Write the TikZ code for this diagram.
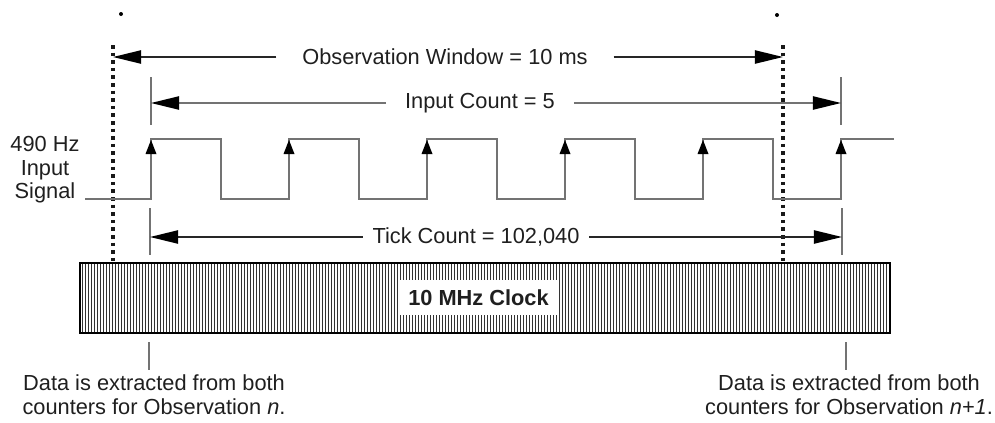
\documentclass[tikz,border=0pt]{standalone}
\usepackage{fontspec}
\setmainfont{Liberation Sans}
\usetikzlibrary{arrows.meta}

\begin{document}
\begin{tikzpicture}[x=0.025cm,y=-0.025cm,font=\fontsize{15.5}{18}\selectfont,text=black!88,
  sigline/.style={black!55,line width=0.05cm},
  dimline/.style={line width=0.04cm,-{Triangle[length=0.7cm,width=0.33cm,color=black]}},
  windowmark/.style={black!90,line width=0.09cm,dash pattern=on 0.09cm off 0.1cm},
  endtick/.style={black!55,line width=0.04cm}]
  \useasboundingbox (0,0) rectangle (995,422);
  % --- observation window markers
  \fill[black] (121,14) circle (2);
  \fill[black] (777,15) circle (2);
  \draw[windowmark] (113,45) -- (113,263);
  \draw[windowmark] (783,45) -- (783,263);
  % --- observation window
  \coordinate (obsL) at (113,57);
  \coordinate (obsR) at (783,57);
  \node[inner xsep=0.64cm,inner ysep=0pt] (obs) at (445,57) {Observation Window = 10 ms};
  \draw[dimline,black!85] (obs.west) -- (obsL);
  \draw[dimline,black!85] (obs.east) -- (obsR);
  % --- input count
  \coordinate (inpL) at (151,103);
  \coordinate (inpR) at (841,103);
  \draw[endtick] (inpL) +(0,-26) -- +(0,22);
  \draw[endtick] (inpR) +(0,-26) -- +(0,22);
  \node[inner xsep=0.47cm,inner ysep=0pt] (inp) at (480,103) {Input Count = 5};
  \draw[dimline,black!55] (inp.west) -- (inpL);
  \draw[dimline,black!55] (inp.east) -- (inpR);
  % --- input signal
  \node[align=center,inner sep=0pt,font=\fontsize{15.5}{16.7}\selectfont] (sig) at (45,170) {490 Hz\\Input\\Signal};
  \draw[sigline] (85,199) -- (151,199)
    foreach \x in {151,289,427,565,703} { -- (\x,139) -- (\x+70,139) -- (\x+70,199) -- (\x+138,199) }
    -- (841,139) -- (894,139);
  \foreach \x in {151,289,...,841} \fill[black] (\x,140) -- (\x-5.5,154) -- (\x+5.5,154) -- cycle;
  % --- tick count
  \coordinate (tickL) at (150,237);
  \coordinate (tickR) at (842,237);
  \draw[endtick] (tickL) +(0,-29) -- +(0,18);
  \draw[endtick] (tickR) +(0,-29) -- +(0,18);
  \node[inner xsep=0.24cm,inner ysep=0pt] (tick) at (476,237) {Tick Count = 102,040};
  \draw[dimline,black!85] (tick.west) -- (tickL);
  \draw[dimline,black!85] (tick.east) -- (tickR);
  % --- clock
  \foreach \x in {82,85,...,889} \draw[black!80,line width=0.45pt] (\x,263) -- (\x,333);
  \draw[line width=0.04cm] (80,263) rectangle (890,333);
  \node[fill=white,font=\fontsize{15.5}{18}\selectfont\bfseries,minimum width=3.93cm,minimum height=0.875cm,inner sep=0pt] (clk) at (478.5,297.5) {10 MHz Clock};
  % --- data extraction
  \node[align=center,inner sep=0pt,anchor=north,font=\fontsize{15.5}{17.7}\selectfont] (dataA) at (154,374) {Data is extracted from both\\counters for Observation \textit{n}.};
  \node[align=center,inner sep=0pt,anchor=north,font=\fontsize{15.5}{17.7}\selectfont] (dataB) at (849,374) {Data is extracted from both\\counters for Observation \textit{n+1}.};
  \coordinate (evA) at (149,342);
  \coordinate (evB) at (846,342);
  \draw[endtick,shorten >=0.1cm] (evA) -- (evA |- dataA.north);
  \draw[endtick,shorten >=0.1cm] (evB) -- (evB |- dataB.north);
\end{tikzpicture}
\end{document}
